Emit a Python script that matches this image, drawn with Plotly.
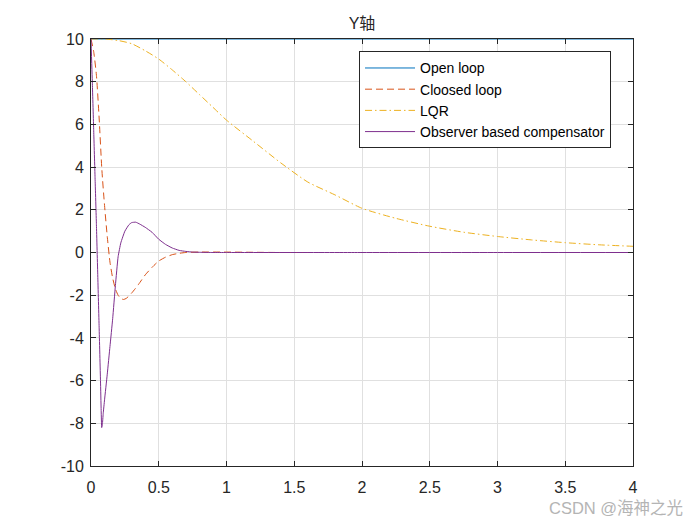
import plotly.graph_objects as go

# ---------------- data ----------------
t_open = [0, 4]
y_open = [10, 10]

t_closed = [0, 0.02, 0.04, 0.06, 0.08, 0.10, 0.12, 0.14, 0.16, 0.18, 0.20, 0.22, 0.24,
            0.26, 0.30, 0.35, 0.40, 0.45, 0.50, 0.55, 0.60, 0.65, 0.70, 0.80, 1.0,
            1.2, 1.4, 1.6]
y_closed = [10, 9.4, 8.3, 6.3, 3.9, 2.2, 0.75, -0.45, -1.2, -1.7, -2.0, -2.15, -2.2,
            -2.15, -1.9, -1.5, -1.05, -0.7, -0.4, -0.22, -0.1, -0.04, 0.0, 0.02, 0.02,
            0.01, 0.0, 0.0]

t_lqr = [0, 0.1, 0.2, 0.3, 0.4, 0.5, 0.6, 0.7, 0.8, 0.9, 1.0, 1.2, 1.4, 1.6, 1.8,
         2.0, 2.25, 2.5, 2.75, 3.0, 3.25, 3.5, 3.75, 4.0]
y_lqr = [10, 10, 9.93, 9.78, 9.45, 9.06, 8.55, 8.0, 7.4, 6.8, 6.2, 5.2, 4.2, 3.3, 2.7,
         2.07, 1.6, 1.23, 0.95, 0.75, 0.59, 0.46, 0.36, 0.29]

t_obs = [0, 0.01, 0.02, 0.03, 0.04, 0.05, 0.06, 0.07, 0.075, 0.079, 0.084, 0.09, 0.10,
         0.12, 0.14, 0.16, 0.18, 0.20, 0.22, 0.25, 0.28, 0.30, 0.33, 0.36, 0.40, 0.45,
         0.50, 0.55, 0.60, 0.65, 0.70, 0.75, 0.80, 0.90, 1.0, 2.0, 3.0, 4.0]
y_obs = [10, 7.9, 5.7, 3.5, 1.3, -1.1, -3.5, -6.0, -7.4, -8.2, -8.05, -7.55, -6.9,
         -5.7, -4.4, -3.1, -1.55, -0.2, 0.45, 1.0, 1.3, 1.4, 1.42, 1.33, 1.18, 0.95,
         0.62, 0.38, 0.21, 0.1, 0.05, 0.02, 0.01, 0.0, 0.0, 0.0, 0.0, 0.0]

x_ticks = [0, 0.5, 1, 1.5, 2, 2.5, 3, 3.5, 4]
x_tick_text = ["0", "0.5", "1", "1.5", "2", "2.5", "3", "3.5", "4"]
y_ticks = [-10, -8, -6, -4, -2, 0, 2, 4, 6, 8, 10]
y_tick_text = ["-10", "-8", "-6", "-4", "-2", "0", "2", "4", "6", "8", "10"]

names = ["Open loop", "Cloosed loop", "LQR", "Observer based compensator"]
title_text = "Y轴"
watermark = "CSDN @海神之光"

FONT = "Liberation Sans, Arial, Noto Sans CJK SC, sans-serif"
AX = "#262626"

fig = go.Figure()
fig.add_trace(go.Scatter(x=t_open, y=y_open, mode="lines", name=names[0],
                         line=dict(color="#0072BD", width=1)))
fig.add_trace(go.Scatter(x=t_closed, y=y_closed, mode="lines", name=names[1],
                         line=dict(color="#D95319", width=1, dash="7px,4px", shape="spline", smoothing=0.6)))
fig.add_trace(go.Scatter(x=t_lqr, y=y_lqr, mode="lines", name=names[2],
                         line=dict(color="#EDB120", width=1, dash="7px,3px,1.5px,3px", shape="spline", smoothing=0.6)))
fig.add_trace(go.Scatter(x=t_obs, y=y_obs, mode="lines", name=names[3],
                         line=dict(color="#7E2F8E", width=1, shape="spline", smoothing=0.4)))

axis_common = dict(
    showline=True, linecolor=AX, linewidth=1, mirror="allticks",
    ticks="inside", ticklen=5, tickcolor=AX, tickwidth=1,
    showgrid=True, gridcolor="#e0e0e0", gridwidth=1,
    zeroline=False, tickfont=dict(family=FONT, size=16, color=AX),
)

fig.update_xaxes(range=[0, 4], tickmode="array", tickvals=x_ticks, ticktext=x_tick_text,
                 ticklabelstandoff=7, **axis_common)
fig.update_yaxes(range=[-10, 10], tickmode="array", tickvals=y_ticks, ticktext=y_tick_text,
                 ticklabelstandoff=3, **axis_common)

fig.update_layout(
    width=700, height=525,
    margin=dict(l=91, r=67, t=39, b=59),
    paper_bgcolor="white", plot_bgcolor="white",
    font=dict(family=FONT, size=15, color=AX),
    title=dict(text=title_text, x=0.5, xref="paper", xanchor="center",
               y=1 - 23 / 525, yref="container", yanchor="middle",
               font=dict(family=FONT, size=16, color=AX)),
    showlegend=True,
    legend=dict(x=0.4945, y=0.971, xanchor="left", yanchor="top",
                bgcolor="white", bordercolor="#262626", borderwidth=1,
                font=dict(family=FONT, size=14, color="black"),
                itemwidth=50, tracegroupgap=0),
    annotations=[dict(text=watermark, xref="paper", yref="paper",
                      x=(685 - 91) / 542, y=-(508 - 466) / 427,
                      xanchor="right", yanchor="middle", showarrow=False,
                      font=dict(family=FONT, size=16.5, color="#b4b4b4"))],
)

fig.write_html("out.html")
